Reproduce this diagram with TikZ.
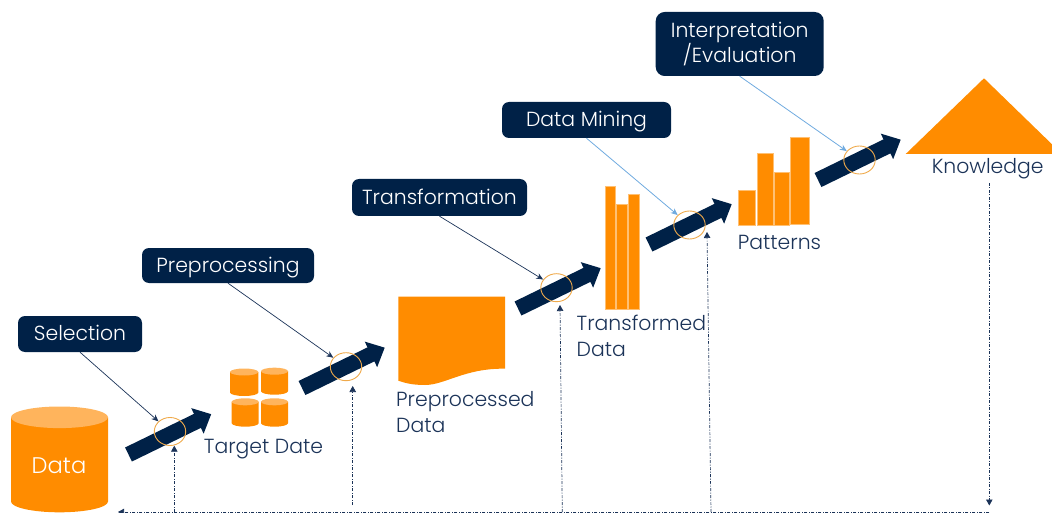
\documentclass[tikz,border=0pt]{standalone}
\usepackage{fontspec}
\setmainfont{Poppins}[UprightFont=* Light]
\usetikzlibrary{arrows.meta,shapes.geometric}
\definecolor{navy}{HTML}{002147}
\definecolor{ink}{HTML}{1B3358}
\definecolor{orng}{HTML}{FF8C00}
\definecolor{orngtop}{HTML}{FFB45C}
\definecolor{ringc}{HTML}{EFA94A}
\definecolor{sky}{HTML}{6FAADF}
\tikzset{
  fixline/.style={text height=18.4pt,text depth=5pt},
  stepbox/.style={draw=none,fill=navy,rounded corners=7pt,text=white,font=\fontsize{20.4}{25.4}\selectfont,align=center,inner sep=0pt},
  caption/.style={text=ink,font=\fontsize{20.4}{25.5}\selectfont,inner sep=0pt},
  ring/.style={ellipse,draw=ringc,line width=0.9pt,minimum width=31.4pt,minimum height=28pt,inner sep=0pt},
  darkcall/.style={draw=ink,line width=0.7pt,-{Stealth[length=7pt,width=6pt]}},
  lightcall/.style={draw=sky,line width=0.8pt,-{Stealth[length=7pt,width=6pt]}},
  flowline/.style={draw=ink,line width=0.7pt,dash pattern=on 3pt off 1.5pt on 1pt off 1.5pt,-{Triangle[length=6pt,width=6.5pt]}},
  bar/.style={fill=orng,draw=orng!55!white,line width=0.3pt},
}
\newcommand{\flowarrow}[2]{\fill[navy,shift={(#1,#2)},rotate=26]
  (0,7.8)--(76.7,7.8)--(76.7,14.2)--(92,0)--(76.7,-14.2)--(76.7,-7.8)--(0,-7.8)--cycle;}
% x1, x2, y of top rim centre, y of bottom rim centre, ry
\newcommand{\drum}[5]{
  \fill[orng] (#1,#3) -- (#1,#4) arc[start angle=180,end angle=0,x radius={(#2-#1)/2},y radius=#5] -- (#2,#3) -- cycle;
  \fill[orngtop] ({(#1+#2)/2},#3) ellipse[x radius={(#2-#1)/2},y radius=#5];
}
\begin{document}
\begin{tikzpicture}[x=1pt,y=-1pt]
\useasboundingbox (0,0) rectangle (1052,513);
\clip (0,0) rectangle (1052,513);
% data stores and results
\drum{11}{108}{417.3}{501.5}{10.8}
\node[inner sep=0pt,text=white,font=\fontsize{22.6}{25}\selectfont,fixline] (data) at (59,466.6) {Data};
\drum{230}{258.3}{372}{392.5}{3.5}
\drum{261}{288}{371.2}{391.2}{3.5}
\drum{231.7}{258.7}{401.8}{423.2}{3.5}
\drum{261}{288}{401.8}{423.2}{3.5}
\fill[orng] (398.3,296.7) -- (505,296.7) -- (505,368.7) .. controls (465,368) and (445,385) .. (425,385) .. controls (412,385) and (405,383) .. (398.3,380.7) -- cycle;
\path[bar] (604.7,185.7) rectangle (615.3,309.3);
\path[bar] (616,204) rectangle (627.3,309.3);
\path[bar] (628,194.3) rectangle (638.7,309.3);
\path[bar] (737.7,190) rectangle (755,225.3);
\path[bar] (757,153.3) rectangle (773.3,225.3);
\path[bar] (774,171.7) rectangle (789,225.3);
\path[bar] (790,136.7) rectangle (809,224.3);
\fill[orng] (905.7,154) -- (984,78.3) -- (1062,154) -- cycle;
% captions
\node[caption,fixline] (target) at (263.5,446.6) {Target Date};
\node[caption,anchor=west,align=left] (prep) at (396,412) {Preprocessed\\Data};
\node[caption,anchor=west,align=left] (trans) at (576.5,336) {Transformed\\Data};
\node[caption,fixline] (patterns) at (779.5,243.3) {Patterns};
\node[caption,fixline] (know) at (987.7,166.6) {Knowledge};
% flow arrows
\flowarrow{128.5}{454.5}
\flowarrow{302}{388}
\flowarrow{518}{308.5}
\flowarrow{649}{244.5}
\flowarrow{818}{180}
% rings
\node[ring] (r1) at (170,431.5) {};
\node[ring] (r2) at (346,366.7) {};
\node[ring] (r3) at (556.5,287.7) {};
\node[ring] (r4) at (689.5,225) {};
\node[ring] (r5) at (859.5,160) {};
% step labels
\node[stepbox,fixline,minimum width=124pt,minimum height=36pt] (s1) at (80,334) {Selection};
\node[stepbox,fixline,minimum width=172pt,minimum height=35pt] (s2) at (228,265.5) {Preprocessing};
\node[stepbox,fixline,minimum width=175pt,minimum height=37pt] (s3) at (439.5,197.5) {Transformation};
\node[stepbox,fixline,minimum width=169pt,minimum height=36pt] (s4) at (586.5,120) {Data Mining};
\node[stepbox,rounded corners=9pt,minimum width=168pt,minimum height=64pt] (s5) at (739.7,44) {\raisebox{-1pt}{Interpretation}\\\raisebox{-1pt}{/Evaluation}};
% callouts
\draw[darkcall] (s1.south) -- (r1);
\draw[darkcall] (s2.south) -- (r2);
\draw[darkcall] (s3.south) -- (r3);
\draw[lightcall] (s4.south) -- (r4);
\draw[lightcall] (s5.south) -- (r5);
% feedback lines
\coordinate (b1) at (174.3,512);
\coordinate (b1t) at (174.3,445.7);
\coordinate (b2) at (352.7,505);
\coordinate (b2t) at (352.7,386);
\coordinate (b3) at (562.3,512);
\coordinate (b3t) at (560,305);
\coordinate (b4) at (711,512);
\coordinate (b4t) at (707,232);
\coordinate (k0) at (989.3,183);
\coordinate (k1) at (989.3,505.5);
\coordinate (h0) at (989.3,512);
\coordinate (h1) at (118,512);
\draw[flowline] (b1) -- (b1t);
\draw[flowline] (b2) -- (b2t);
\draw[flowline] (b3) -- (b3t);
\draw[flowline] (b4) -- (b4t);
\draw[flowline] (k0) -- (k1);
\draw[flowline] (h0) -- (h1);
\end{tikzpicture}
\end{document}
